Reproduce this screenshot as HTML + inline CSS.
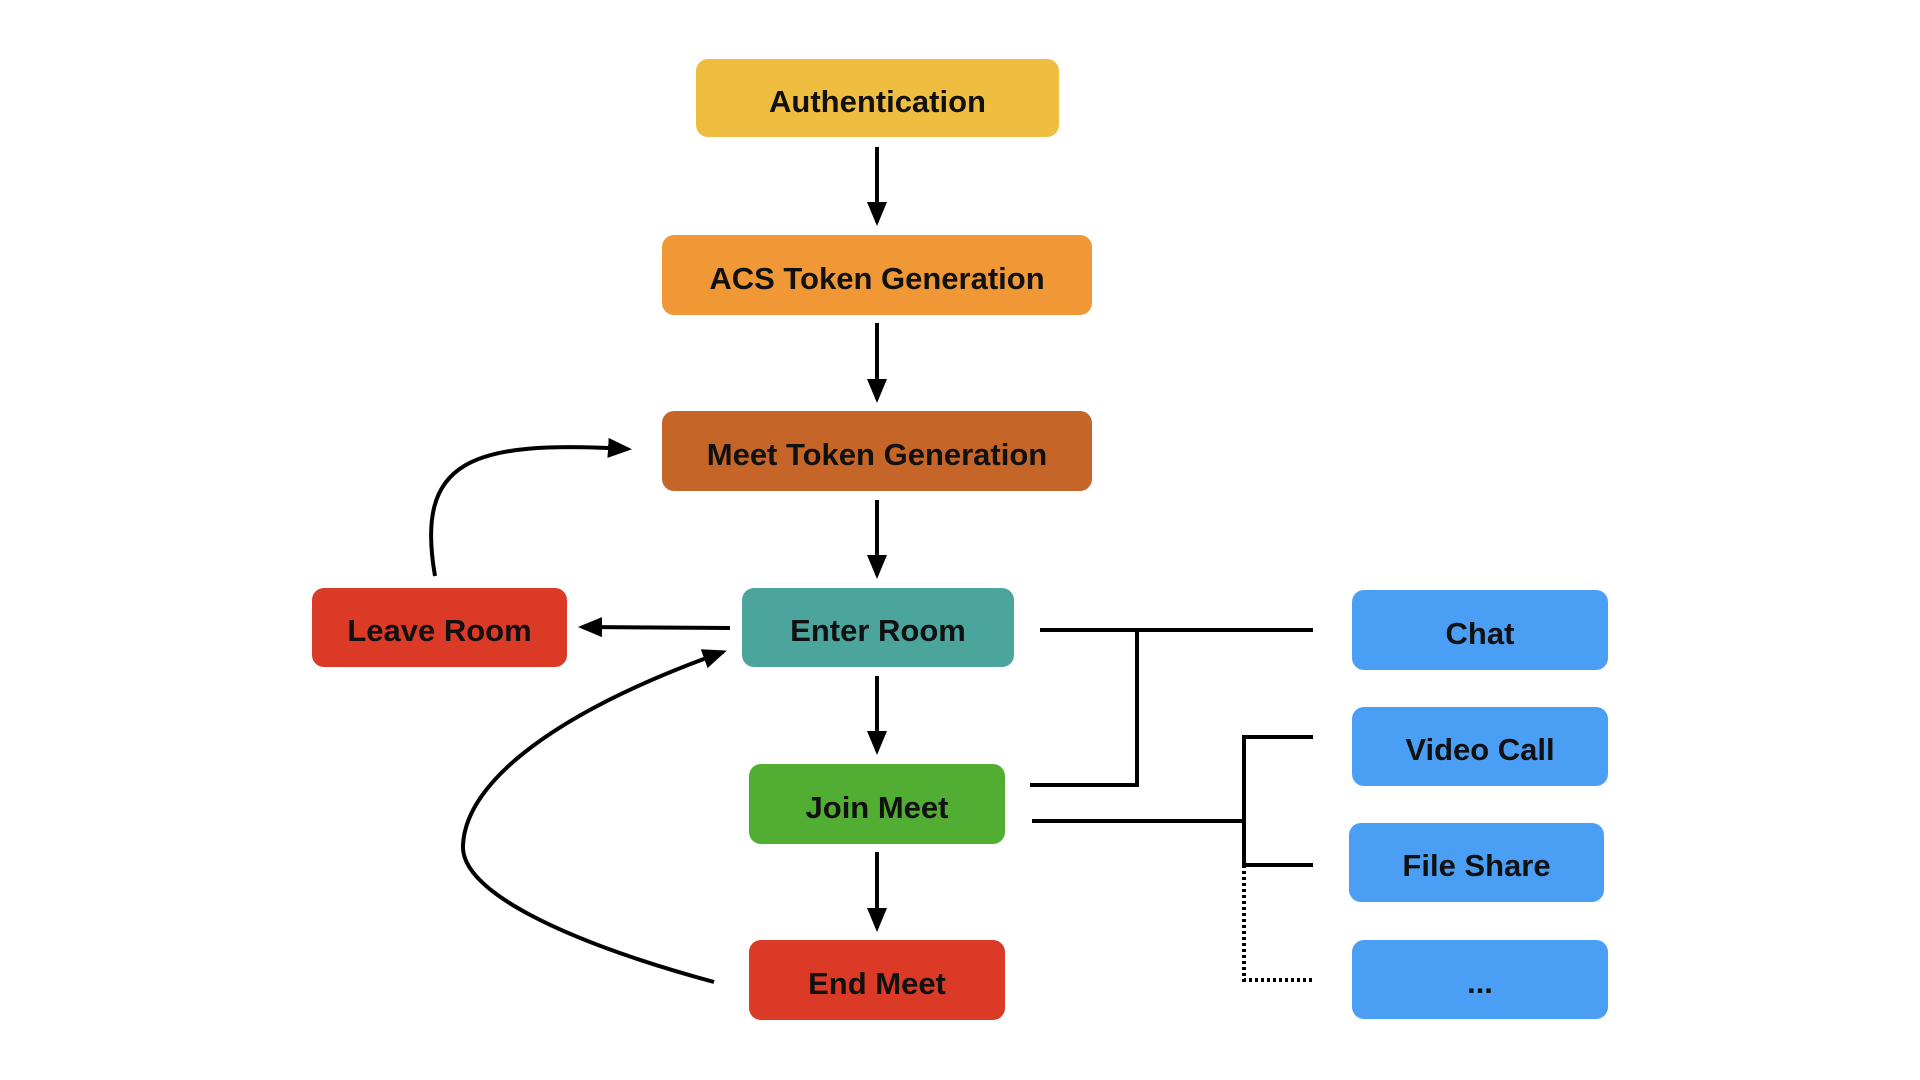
<!DOCTYPE html>
<html><head><meta charset="utf-8"><style>
html,body{margin:0;padding:0;background:#fff;width:1920px;height:1080px;overflow:hidden}
.n{position:absolute;border-radius:12px;display:flex;align-items:center;justify-content:center;font-family:"Liberation Sans",sans-serif;font-weight:bold;font-size:31px;color:#111;box-sizing:border-box;padding-top:7px}
svg{position:absolute;left:0;top:0}
</style></head><body>
<div class="n" style="left:696px;top:59px;width:363px;height:78px;background:#EFBD40">Authentication</div>
<div class="n" style="left:662px;top:235px;width:430px;height:80px;background:#F09836">ACS Token Generation</div>
<div class="n" style="left:662px;top:411px;width:430px;height:80px;background:#C66528">Meet Token Generation</div>
<div class="n" style="left:742px;top:588px;width:272px;height:79px;background:#4CA59C">Enter Room</div>
<div class="n" style="left:312px;top:588px;width:255px;height:79px;background:#DB3A27">Leave Room</div>
<div class="n" style="left:749px;top:764px;width:256px;height:80px;background:#52AD33">Join Meet</div>
<div class="n" style="left:749px;top:940px;width:256px;height:80px;background:#DB3A27">End Meet</div>
<div class="n" style="left:1352px;top:590px;width:256px;height:80px;background:#4A9FF5">Chat</div>
<div class="n" style="left:1352px;top:707px;width:256px;height:79px;background:#4A9FF5">Video Call</div>
<div class="n" style="left:1349px;top:823px;width:255px;height:79px;background:#4A9FF5">File Share</div>
<div class="n" style="left:1352px;top:940px;width:256px;height:79px;background:#4A9FF5">...</div>
<svg width="1920" height="1080">
<defs><marker id="a" markerWidth="6" markerHeight="5" refX="5" refY="2.5" orient="auto" markerUnits="strokeWidth"><path d="M0,0 L6,2.5 L0,5 z" fill="#000"/></marker></defs>
<g stroke="#000" stroke-width="4" fill="none">
<line x1="877" y1="147" x2="877" y2="222" marker-end="url(#a)"/>
<line x1="877" y1="323" x2="877" y2="399" marker-end="url(#a)"/>
<line x1="877" y1="500" x2="877" y2="575" marker-end="url(#a)"/>
<line x1="877" y1="676" x2="877" y2="751" marker-end="url(#a)"/>
<line x1="877" y1="852" x2="877" y2="928" marker-end="url(#a)"/>
<line x1="730" y1="628" x2="582" y2="627" marker-end="url(#a)"/>
<path d="M435 576 C415 460,470 440,628 449" marker-end="url(#a)"/>
<path d="M714 982 C560 940,460 890,463 845 C466 780,560 710,723 652" marker-end="url(#a)"/>
<polyline points="1040,630 1313,630"/>
<polyline points="1137,630 1137,785 1030,785"/>
<polyline points="1032,821 1244,821"/>
<polyline points="1313,737 1244,737 1244,865 1313,865"/>
<polyline points="1244,865 1244,980 1313,980" stroke-dasharray="3,3"/>
</g></svg>
</body></html>
